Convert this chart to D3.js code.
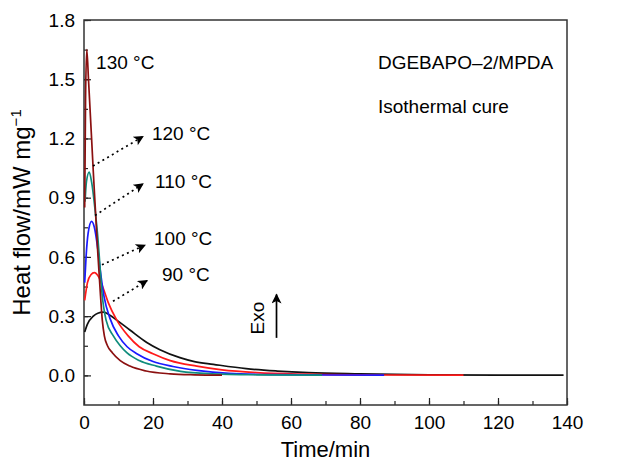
<!DOCTYPE html>
<html>
<head>
<meta charset="utf-8">
<script src="https://cdn.jsdelivr.net/npm/d3@7"></script>
<style>
  body { margin: 0; background: #fff; }
  svg { font-family: "Liberation Sans", Arial, Helvetica, sans-serif; }
</style>
</head>
<body>
<div id="chart"></div>
<script>
// isothermal DSC curves, [time in min, heat flow in mW/mg]
var curve130 = [[0.2,0.85],[0.45,1.4],[0.8,1.65],[1.3,1.5],[2.7,1.03],[4,0.62],[4.8,0.4],[5.3,0.28],[5.9,0.2],
  [6.8,0.15],[8.2,0.115],[10.5,0.075],[13.3,0.047],[18,0.022],[25,0.008],[32,0.003],[40,0.001]];
var curve120 = [[0.3,0.88],[0.7,0.98],[1.5,1.03],[2.2,0.98],[3.2,0.84],[4,0.7],[4.6,0.56],[5.2,0.42],[6.4,0.28],
  [8.5,0.2],[10.5,0.15],[12.4,0.115],[16,0.075],[21,0.047],[28,0.02],[37,0.008],[50,0.003],[69,0.001]];
var curve110 = [[0.2,0.47],[0.6,0.6],[1.2,0.72],[2.2,0.78],[3,0.75],[4,0.64],[4.8,0.52],[5.8,0.4],[7.5,0.29],
  [10,0.2],[12.5,0.145],[15.3,0.11],[20,0.07],[25.8,0.045],[32.7,0.025],[42,0.01],[55,0.004],[70,0.002],[87,0.001]];
var curve100 = [[0.2,0.38],[1,0.47],[2,0.51],[3,0.52],[4.2,0.5],[5.6,0.44],[7,0.37],[9.5,0.28],[12.8,0.2],
  [16,0.145],[20,0.11],[25,0.075],[32.7,0.047],[40,0.028],[50,0.014],[65,0.006],[85,0.002],[110,0.001]];
var curve90 = [[0.2,0.22],[1,0.26],[2.7,0.3],[4,0.315],[5.6,0.32],[7.5,0.305],[9.5,0.28],[13.3,0.23],[18.2,0.167],
  [22,0.13],[27.8,0.09],[32,0.07],[37.5,0.056],[47,0.034],[56,0.022],[65,0.014],[80,0.008],[100,0.003],[120,0.001],[139,0.001]];

var seriesNames = ['130 °C', '120 °C', '110 °C', '100 °C', '90 °C'];
var seriesColors = ['#8b1010', '#0f8c7c', '#1a1aff', '#ff1a1a', '#111111'];

var xTicks = [0, 20, 40, 60, 80, 100, 120, 140];
var yTicks = [0.0, 0.3, 0.6, 0.9, 1.2, 1.5, 1.8];

// label anchors: [text x, text y, arrow tail x, tail y, head x, head y] in data units
var labels130 = [3.5, 1.55];
var arrows = [
  [19.7, 1.19, 2.6, 1.06, 17.1, 1.21],
  [20.6, 0.95, 3.2, 0.81, 17.1, 0.97],
  [20.3, 0.66, 5.2, 0.56, 17.7, 0.66],
  [22.6, 0.48, 8.4, 0.375, 18.3, 0.48]
];

var width = 623, height = 463;
var margin = {top: 20, right: 56, bottom: 58, left: 84};

var svg = d3.select('#chart').append('svg')
  .attr('width', width)
  .attr('height', height);

var x = d3.scaleLinear().domain([0, 140]).range([margin.left, width - margin.right]);
var y = d3.scaleLinear().domain([-0.15, 1.8]).range([height - margin.bottom, margin.top]);

// minor ticks first, majors on top
var xMinor = d3.range(0, 141, 10);
var yMinor = d3.range(0, 1.81, 0.15);

svg.append('g')
  .attr('transform', 'translate(0,' + y(-0.15) + ')')
  .call(d3.axisBottom(x).tickValues(xMinor).tickSize(-4).tickFormat(''))
  .call(function(g) { g.select('.domain').remove(); });

svg.append('g')
  .attr('transform', 'translate(' + x(0) + ',0)')
  .call(d3.axisLeft(y).tickValues(yMinor).tickSize(-4).tickFormat(''))
  .call(function(g) { g.select('.domain').remove(); });

var xAxis = svg.append('g')
  .attr('transform', 'translate(0,' + y(-0.15) + ')')
  .call(d3.axisBottom(x).tickValues(xTicks).tickSize(-7).tickPadding(11).tickFormat(d3.format('d')));
xAxis.select('.domain').remove();
xAxis.selectAll('text').attr('font-size', 19).attr('fill', '#000').attr('dy', '0.71em');

var yAxis = svg.append('g')
  .attr('transform', 'translate(' + x(0) + ',0)')
  .call(d3.axisLeft(y).tickValues(yTicks).tickSize(-7).tickPadding(9).tickFormat(d3.format('.1f')));
yAxis.select('.domain').remove();
yAxis.selectAll('text').attr('font-size', 19).attr('fill', '#000');

svg.selectAll('.tick line').attr('stroke', '#222').attr('stroke-width', 1.2);

// frame
svg.append('rect')
  .attr('x', x(0)).attr('y', y(1.8))
  .attr('width', x(140) - x(0)).attr('height', y(-0.15) - y(1.8))
  .attr('fill', 'none').attr('stroke', '#333').attr('stroke-width', 1.5);

// curves
var line = d3.line()
  .x(function(d) { return x(d[0]); })
  .y(function(d) { return y(d[1]); })
  .curve(d3.curveMonotoneX);

var curves = [curve130, curve120, curve110, curve100, curve90];
// draw slow curves first so the fast ones sit on top at the start
for (var i = curves.length - 1; i >= 0; i--) {
  svg.append('path')
    .datum(curves[i])
    .attr('d', line)
    .attr('fill', 'none')
    .attr('stroke', seriesColors[i])
    .attr('stroke-width', 1.7);
}

// arrow marker
svg.append('defs').append('marker')
  .attr('id', 'head')
  .attr('viewBox', '0 0 10 10')
  .attr('refX', 9).attr('refY', 5)
  .attr('markerWidth', 14).attr('markerHeight', 10)
  .attr('markerUnits', 'userSpaceOnUse')
  .attr('orient', 'auto')
  .append('path').attr('d', 'M0,0 L10,5 L0,10 L2.5,5 Z').attr('fill', '#000');

svg.append('text')
  .attr('x', x(labels130[0])).attr('y', y(labels130[1]))
  .attr('font-size', 19).text(seriesNames[0]);

arrows.forEach(function(a, i) {
  svg.append('line')
    .attr('x1', x(a[2])).attr('y1', y(a[3]))
    .attr('x2', x(a[4])).attr('y2', y(a[5]))
    .attr('stroke', '#000').attr('stroke-width', 1.7)
    .attr('stroke-dasharray', '2,3.5')
    .attr('marker-end', 'url(#head)');
  svg.append('text')
    .attr('x', x(a[0])).attr('y', y(a[1]))
    .attr('font-size', 19).text(seriesNames[i + 1]);
});

svg.append('text')
  .attr('x', x(85.2)).attr('y', y(1.55))
  .attr('font-size', 19).text('DGEBAPO\u20132/MPDA');
svg.append('text')
  .attr('x', x(85.2)).attr('y', y(1.33))
  .attr('font-size', 19).text('Isothermal cure');

// Exo marker
svg.append('text')
  .attr('transform', 'translate(' + (x(52.3)) + ',' + y(0.29) + ') rotate(-90)')
  .attr('text-anchor', 'middle')
  .attr('font-size', 19).text('Exo');
svg.append('line')
  .attr('x1', x(55.8)).attr('y1', y(0.19))
  .attr('x2', x(55.8)).attr('y2', y(0.41))
  .attr('stroke', '#000').attr('stroke-width', 1.7)
  .attr('marker-end', 'url(#head)');

// axis titles
svg.append('text')
  .attr('x', (x(0) + x(140)) / 2).attr('y', 457)
  .attr('text-anchor', 'middle')
  .attr('font-size', 22).text('Time/min');

var yt = svg.append('text')
  .attr('transform', 'translate(30,' + ((y(1.8) + y(-0.15)) / 2) + ') rotate(-90)')
  .attr('text-anchor', 'middle')
  .attr('font-size', 24);
yt.append('tspan').text('Heat flow/mW mg');
yt.append('tspan').attr('font-size', 15).attr('dy', -9).text('\u22121');
</script>
</body>
</html>
